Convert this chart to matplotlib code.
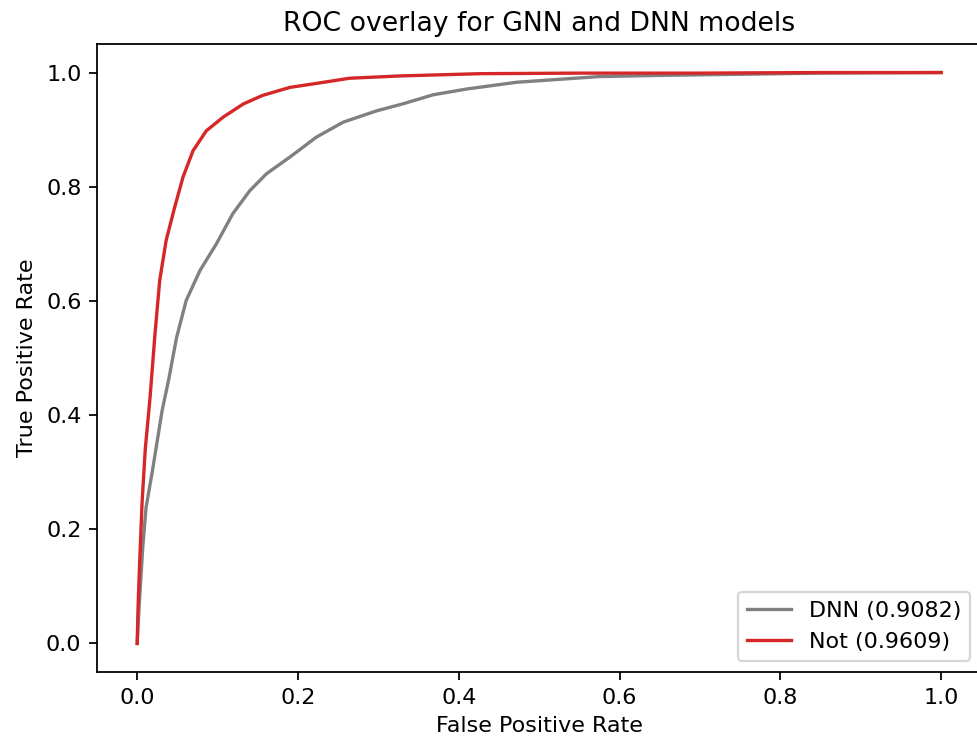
import matplotlib
matplotlib.use("Agg")
from matplotlib import pyplot as plt

# ROC points
dnn_fpr = [0, 0.001, 0.003, 0.007, 0.011, 0.019, 0.031, 0.039, 0.049, 0.061, 0.078,
           0.0985, 0.119, 0.140, 0.161, 0.190, 0.223, 0.256, 0.298, 0.33, 0.368, 0.409,
           0.472, 0.534, 0.575, 0.65, 0.75, 0.85, 1.0]
dnn_tpr = [0, 0.03, 0.08, 0.17, 0.238, 0.303, 0.408, 0.461, 0.536, 0.601, 0.653,
           0.700, 0.753, 0.793, 0.823, 0.852, 0.887, 0.913, 0.933, 0.945, 0.961, 0.971,
           0.983, 0.989, 0.993, 0.995, 0.997, 0.999, 1.0]

not_fpr = [0, 0.001, 0.003, 0.006, 0.010, 0.016, 0.022, 0.028, 0.036, 0.0466, 0.057,
           0.0694, 0.086, 0.107, 0.132, 0.156, 0.190, 0.223, 0.264, 0.326, 0.426,
           0.55, 0.7, 0.85, 1.0]
not_tpr = [0, 0.06, 0.14, 0.245, 0.34, 0.431, 0.540, 0.636, 0.706, 0.764, 0.817,
           0.863, 0.898, 0.922, 0.945, 0.960, 0.974, 0.981, 0.990, 0.994, 0.998,
           0.999, 0.999, 1.0, 1.0]

dnn_auc = 0.9082
not_auc = 0.9609

dpi = 160
fig = plt.figure(figsize=(977 / dpi, 746 / dpi), dpi=dpi)
ax = fig.add_axes([97 / 977, 74 / 746, 884.4 / 977, 628 / 746])

ax.plot(dnn_fpr, dnn_tpr, color='grey', label='DNN (' + str(dnn_auc) + ')')
ax.plot(not_fpr, not_tpr, color='#d62728', label='Not (' + str(not_auc) + ')')

ax.set_xlabel('False Positive Rate')
ax.set_ylabel('True Positive Rate')
ax.set_title('ROC overlay for GNN and DNN models')
ax.legend(loc='lower right')

fig.savefig('out.png', dpi=dpi)
